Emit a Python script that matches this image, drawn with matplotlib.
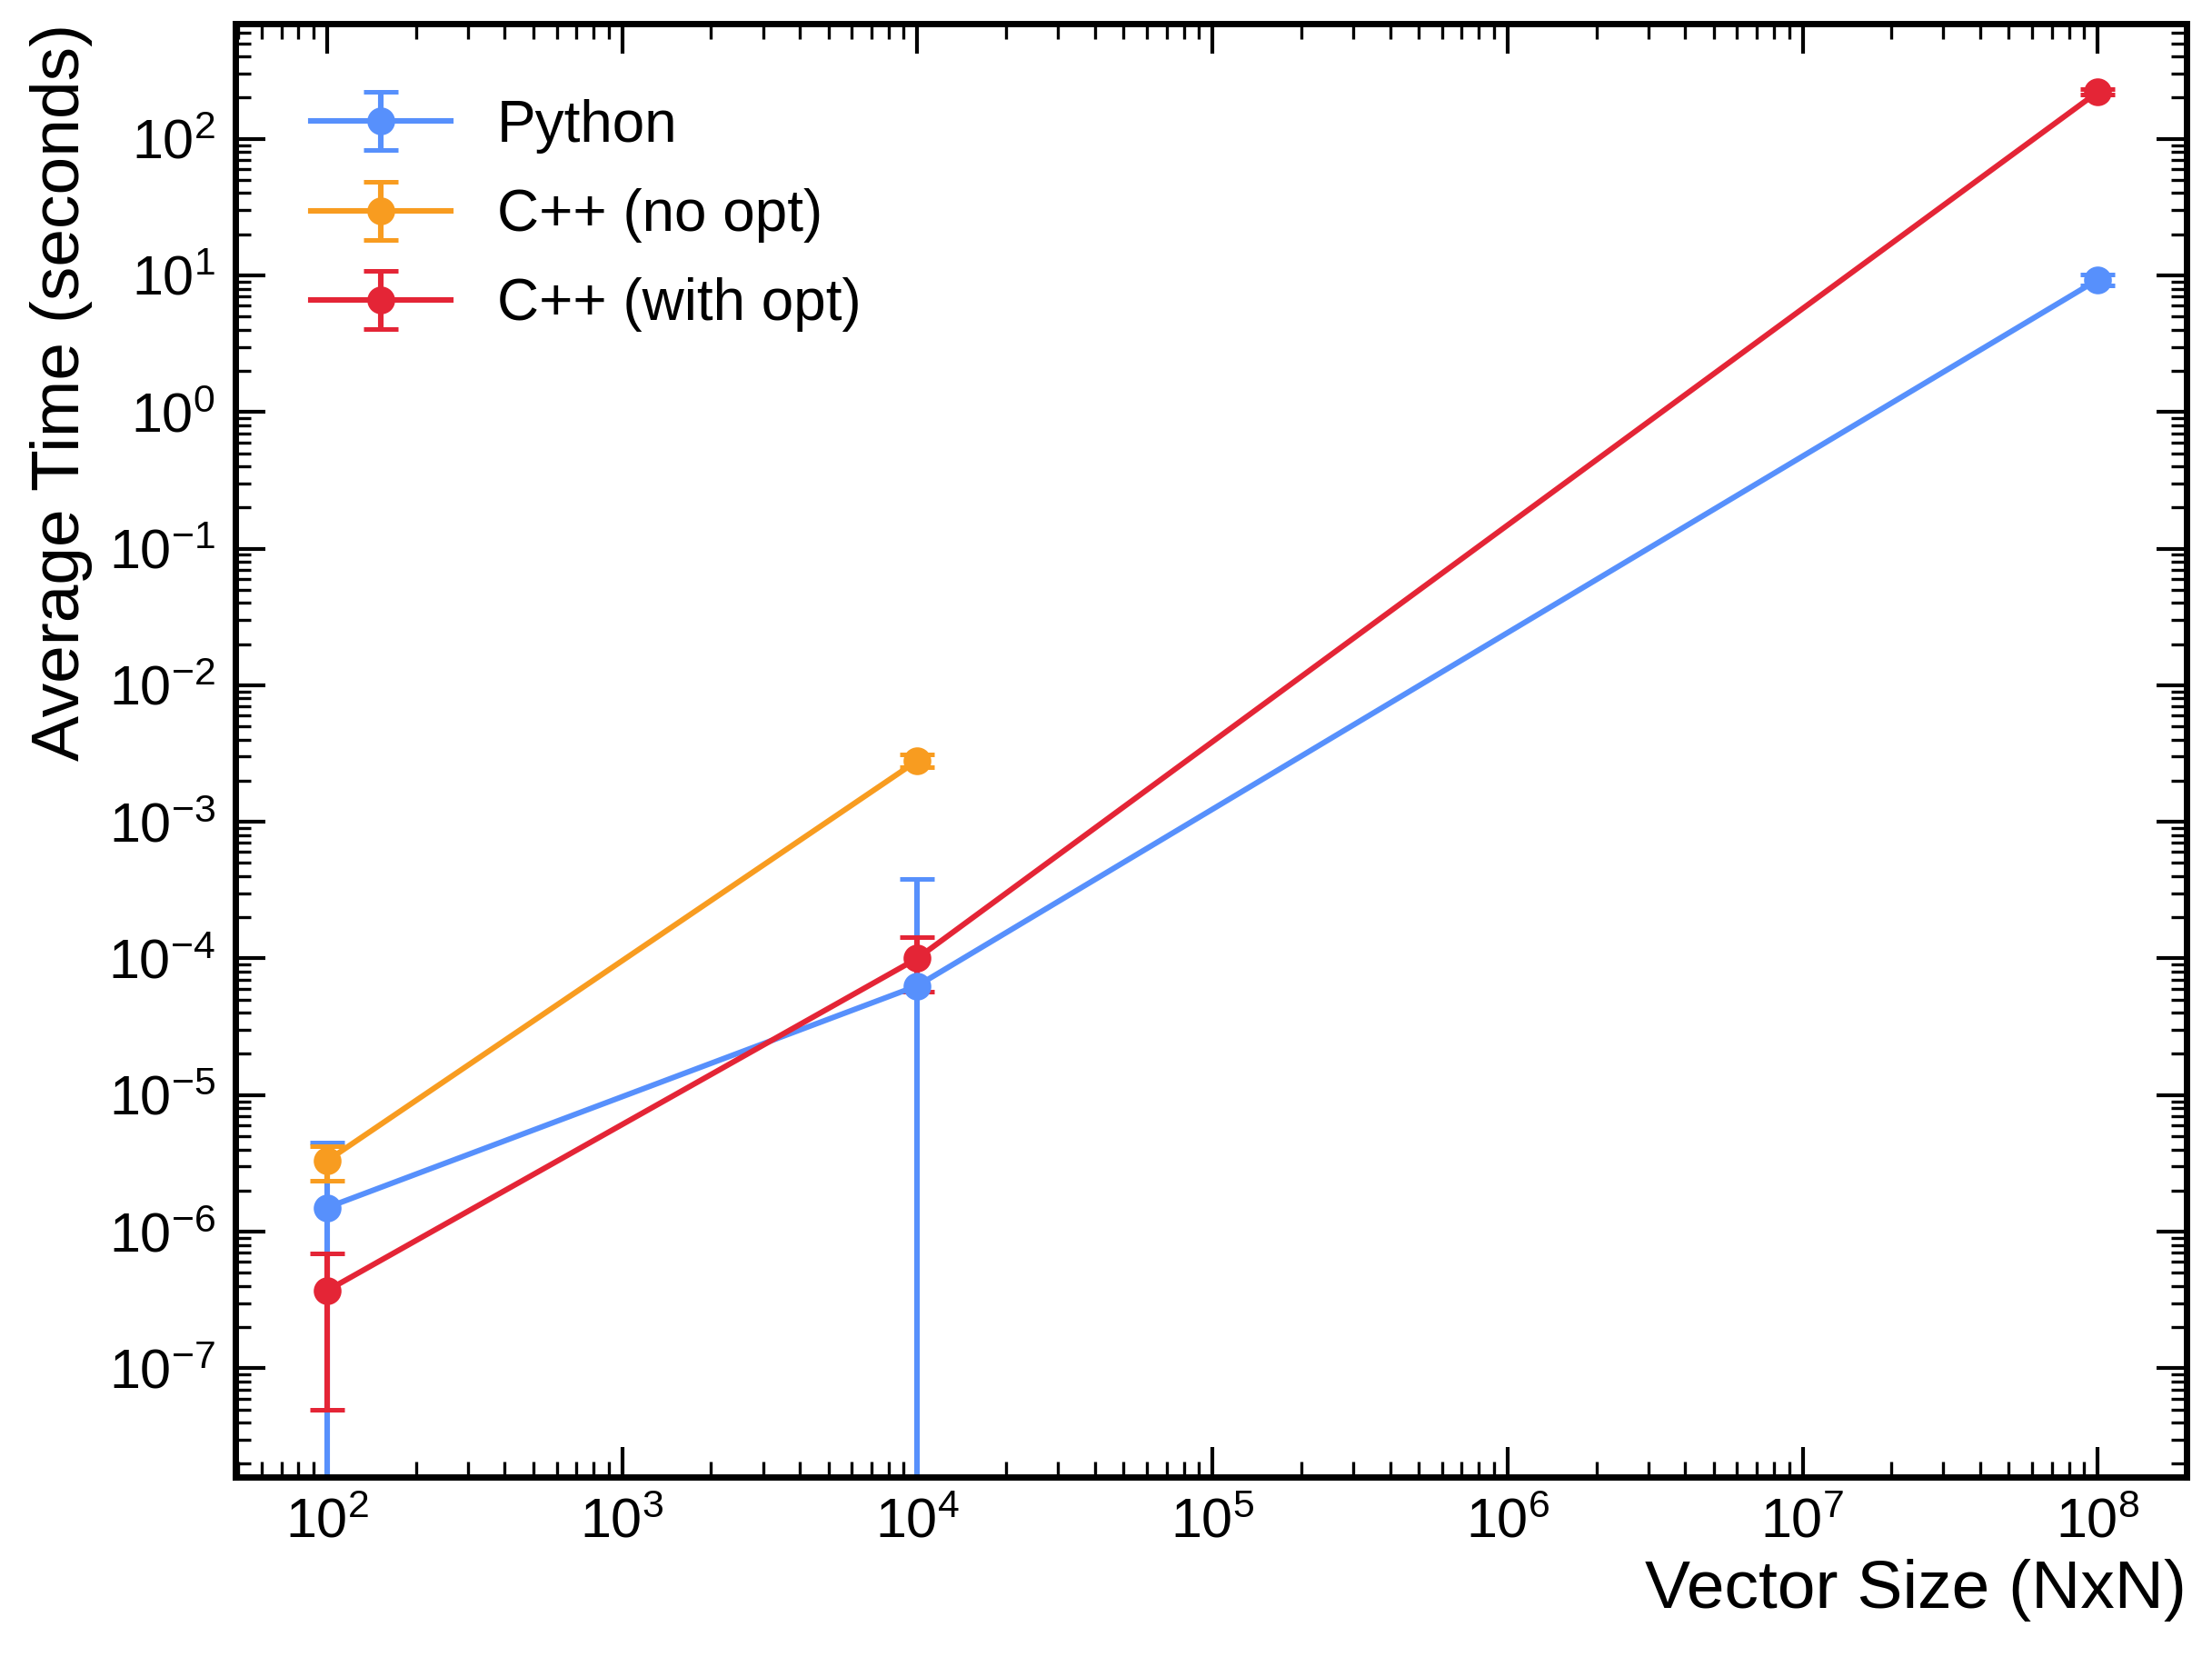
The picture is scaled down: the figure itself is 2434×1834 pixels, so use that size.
import matplotlib
matplotlib.use("Agg")
import matplotlib.pyplot as plt
from matplotlib.ticker import LogLocator, NullFormatter

plt.rcParams['font.family'] = ['Liberation Sans', 'DejaVu Sans']
plt.rcParams['mathtext.fontset'] = 'custom'
plt.rcParams['mathtext.rm'] = 'Liberation Sans'
plt.rcParams['mathtext.it'] = 'Liberation Sans:italic'

sizes_py = [1e2, 1e4, 1e8]
time_py = [1.5e-6, 6.3e-5, 9.3]
err_py = [3.0e-6, 3.2e-4, 0.8]

sizes_noopt = [1e2, 1e4]
time_noopt = [3.3e-6, 2.8e-3]
err_noopt = [0.95e-6, 0.3e-3]

sizes_opt = [1e2, 1e4, 1e8]
time_opt = [3.7e-7, 1.0e-4, 220]
err_opt = [3.2e-7, 4.3e-5, 10]

fig = plt.figure(figsize=(12.17, 9.17), dpi=200)
ax = fig.add_axes([0.1065, 0.114, 0.882, 0.872])

kw = dict(marker='o', markersize=10, linewidth=2.2, capsize=7, elinewidth=2.2, capthick=1.8)
ax.errorbar(sizes_py, time_py, yerr=err_py, color='#5790fc', label='Python', **kw)
ax.errorbar(sizes_noopt, time_noopt, yerr=err_noopt, color='#f89c20', label='C++ (no opt)', **kw)
ax.errorbar(sizes_opt, time_opt, yerr=err_opt, color='#e42536', label='C++ (with opt)', **kw)

ax.set_xscale('log'); ax.set_yscale('log')
ax.set_xlim(49, 2e8)
ax.set_ylim(1.6e-8, 700)
ax.yaxis.set_major_locator(LogLocator(base=10, numticks=20))
ax.yaxis.set_minor_locator(LogLocator(base=10, subs=range(2, 10), numticks=50))
ax.yaxis.set_minor_formatter(NullFormatter())
ax.xaxis.set_minor_locator(LogLocator(base=10, subs=range(2, 10), numticks=50))
ax.xaxis.set_minor_formatter(NullFormatter())

ax.tick_params(which='both', direction='in', top=True, right=True, labelsize=22)
ax.tick_params(which='major', length=12, width=1.5, pad=8)
ax.tick_params(which='minor', length=6, width=1.2)
for s in ax.spines.values():
    s.set_linewidth(2.5)

ax.set_xlabel('Vector Size (NxN)', fontsize=27, loc='right')
ax.set_ylabel('Average Time (seconds)', fontsize=27, loc='top', labelpad=6)
ax.legend(fontsize=23, frameon=False, loc='upper left', handlelength=2.4,
          labelspacing=0.6, borderpad=0.8)

fig.savefig('out.png', dpi=200)
